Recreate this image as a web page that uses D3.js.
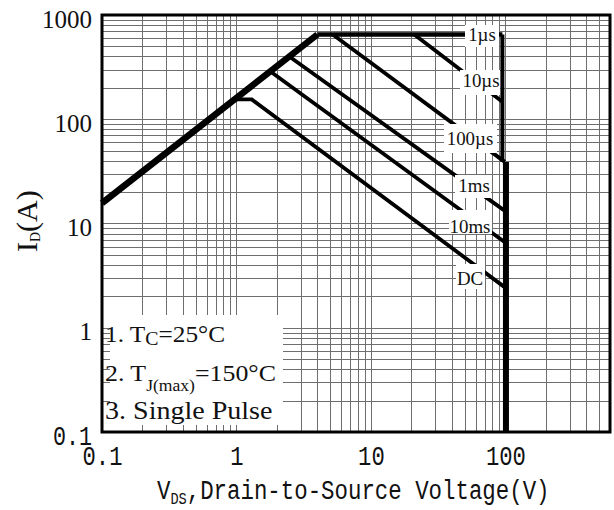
<!DOCTYPE html>
<html><head><meta charset="utf-8">
<script src="https://cdn.jsdelivr.net/npm/d3@7"></script>
<style>body{margin:0;background:#fff}svg{display:block}</style>
</head><body><svg id="c" width="614" height="510"></svg>
<script>
// ---- data ----
const xDomain = [0.1, 600];
const yDomain = [0.1, 1000];
const xTickValues = [0.1, 1, 10, 100];
const xTickLabels = ["0.1", "1", "10", "100"];
const yTickValues = [0.1, 1, 10, 100, 1000];
const yTickLabels = ["0.1", "1", "10", "100", "1000"];

const rdsonV = [0.1, 4.0],  rdsonI = [15.7, 650];
const us1V   = [4.0, 95],   us1I   = [650, 650];
const us10V  = [21, 95],    us10I  = [650, 147];
const us100V = [5.2, 99],   us100I = [650, 39];
const ms1V   = [2.5, 101],  ms1I   = [395, 13];
const ms10V  = [1.8, 101],  ms10I  = [285, 6.5];
const dcV    = [1.0, 1.3, 101], dcI = [155, 155, 2.4];
const bvThinV = [95, 95],   bvThinI = [650, 39];
const bvV    = [101, 101],  bvI    = [39, 0.1];

const seriesLabels = ["1µs", "10µs", "100µs", "1ms", "10ms", "DC"];
const legendLines = ["1. T|C|=25°C", "2. T|J(max)|=150°C", "3. Single Pulse"];

// ---- layout ----
const L = 102, R = 610, T = 15, B = 432;
const svg = d3.select("#c");
const x = d3.scaleLog().domain(xDomain).range([L, R]);
const y = d3.scaleLog().domain(yDomain).range([B, T]);

const gridX = [], gridY = [];
for (let e = -1; e <= 2; e++) for (let m = 1; m <= 9; m++) { const v = m * Math.pow(10, e); if (v > xDomain[0] && v < xDomain[1]) gridX.push(v); }
for (let e = -1; e <= 2; e++) for (let m = 1; m <= 9; m++) { const v = m * Math.pow(10, e); if (v > yDomain[0] && v < yDomain[1]) gridY.push(v); }

const grid = svg.append("g").attr("stroke", "#6e6e6e").attr("stroke-width", 1);
grid.selectAll("line.v").data(gridX).join("line").attr("class", "v")
  .attr("x1", d => Math.round(x(d)) + 0.5).attr("x2", d => Math.round(x(d)) + 0.5).attr("y1", T).attr("y2", B);
grid.selectAll("line.h").data(gridY).join("line").attr("class", "h")
  .attr("y1", d => Math.round(y(d)) + 0.5).attr("y2", d => Math.round(y(d)) + 0.5).attr("x1", L).attr("x2", R);

// legend box (white) covering grid
svg.append("rect").attr("x", L).attr("y", 315).attr("width", 283 - L).attr("height", B - 315).attr("fill", "#fff");

// inner ticks (left & bottom)
const ticks = svg.append("g").attr("stroke", "#6e6e6e").attr("stroke-width", 1);
ticks.selectAll("line.tl").data(gridY).join("line").attr("class", "tl")
  .attr("x1", L).attr("x2", L + 8).attr("y1", d => Math.round(y(d)) + 0.5).attr("y2", d => Math.round(y(d)) + 0.5);
ticks.selectAll("line.tb").data(gridX).join("line").attr("class", "tb")
  .attr("x1", d => Math.round(x(d)) + 0.5).attr("x2", d => Math.round(x(d)) + 0.5).attr("y1", B).attr("y2", B - 7);

// curves
const line = d3.line().x(d => x(d[0])).y(d => y(d[1]));
const zip = (a, b) => a.map((v, i) => [v, b[i]]);
const curves = [
  [rdsonV, rdsonI, 6.5],
  [us1V, us1I, 4.5],
  [us10V, us10I, 3.8],
  [us100V, us100I, 3.8],
  [ms1V, ms1I, 3.8],
  [ms10V, ms10I, 3.8],
  [dcV, dcI, 3.8],
  [bvThinV, bvThinI, 4],
  [bvV, bvI, 6]
];
svg.append("g").selectAll("path").data(curves).join("path")
  .attr("d", d => line(zip(d[0], d[1])))
  .attr("fill", "none").attr("stroke", "#000").attr("stroke-width", d => d[2])
  .attr("stroke-linejoin", "miter").attr("stroke-linecap", "butt");

// curve labels with white boxes
const labelLayout = [
  {cx: 482, base: 41,  box: [465, 25, 499, 47]},
  {cx: 481, base: 87,  box: [460, 70, 500, 95]},
  {cx: 470, base: 145, box: [444, 124, 497, 153]},
  {cx: 474, base: 192, box: [455, 175, 491, 198]},
  {cx: 470, base: 233, box: [449, 210, 492, 234]},
  {cx: 470, base: 285, box: [456, 264, 485, 289]}
];
const lab = svg.append("g").selectAll("g").data(seriesLabels).join("g");
lab.append("rect").attr("fill", "#fff")
  .attr("x", (d, i) => labelLayout[i].box[0]).attr("y", (d, i) => labelLayout[i].box[1])
  .attr("width", (d, i) => labelLayout[i].box[2] - labelLayout[i].box[0])
  .attr("height", (d, i) => labelLayout[i].box[3] - labelLayout[i].box[1]);
lab.append("text").text(d => d)
  .attr("transform", (d, i) => `translate(${labelLayout[i].cx},${labelLayout[i].base}) scale(1.05,1)`)
  .attr("text-anchor", "middle").attr("font-family", "Liberation Serif").attr("font-size", 18).attr("fill", "#111");

// legend text
const legBase = [342, 381, 419];
const legSize = [23, 23.5, 25.5];
const legSubSize = [18, 16, 0];
const legSubDy = [3, 10, 0];
legendLines.forEach((s, i) => {
  const parts = s.split("|");
  const t = svg.append("text").attr("transform", `translate(105,${legBase[i]}) scale(1.1,1)`)
    .attr("font-family", "Liberation Serif").attr("font-size", legSize[i]).attr("fill", "#111");
  t.append("tspan").text(parts[0]);
  if (parts.length > 1) {
    t.append("tspan").text(parts[1]).attr("font-size", legSubSize[i]).attr("dy", legSubDy[i]);
    t.append("tspan").text(parts[2]).attr("dy", -legSubDy[i]);
  }
});

// frame
svg.append("rect").attr("x", L).attr("y", T).attr("width", R - L).attr("height", B - T)
  .attr("fill", "none").attr("stroke", "#000").attr("stroke-width", 3);

// axes
const gx = svg.append("g").attr("transform", `translate(0,${B})`)
  .call(d3.axisBottom(x).tickValues(xTickValues).tickFormat((d, i) => xTickLabels[i]).tickSize(0));
gx.select(".domain").remove();
gx.selectAll("text").attr("y", 33).attr("dy", null)
  .attr("font-family", "Liberation Mono").attr("font-size", 27).attr("fill", "#111")
  .attr("textLength", (d, i) => xTickLabels[i].length * 13.3).attr("lengthAdjust", "spacingAndGlyphs");

const gy = svg.append("g").attr("transform", `translate(${L},0)`)
  .call(d3.axisLeft(y).tickValues(yTickValues).tickFormat((d, i) => yTickLabels[i]).tickSize(0));
gy.select(".domain").remove();
gy.selectAll("text").attr("x", -10).attr("y", 12).attr("dy", null).attr("fill", "#111")
  .each(function(d, i) {
    const el = d3.select(this);
    if (yTickLabels[i].includes(".")) {
      el.attr("font-family", "Liberation Mono").attr("font-size", 27)
        .attr("textLength", 39).attr("lengthAdjust", "spacingAndGlyphs");
    } else {
      el.attr("font-family", "Liberation Serif").attr("font-size", 25);
    }
  });

// x axis title
const xt = svg.append("text").attr("transform", "translate(157,499) scale(0.8,1)")
  .attr("font-family", "Liberation Mono").attr("font-size", 28).attr("fill", "#111");
xt.append("tspan").text("V");
xt.append("tspan").text("DS").attr("font-size", 17).attr("dy", 5);
xt.append("tspan").text(",Drain-to-Source Voltage(V)").attr("dy", -5);

// y axis title
const yt = svg.append("text").attr("transform", "translate(37,252) rotate(-90)")
  .attr("font-family", "Liberation Serif").attr("font-size", 30).attr("fill", "#111");
yt.append("tspan").text("I");
yt.append("tspan").text("D").attr("font-size", 14).attr("dy", 3);
yt.append("tspan").text("(A)").attr("dy", -3);
</script></body></html>
